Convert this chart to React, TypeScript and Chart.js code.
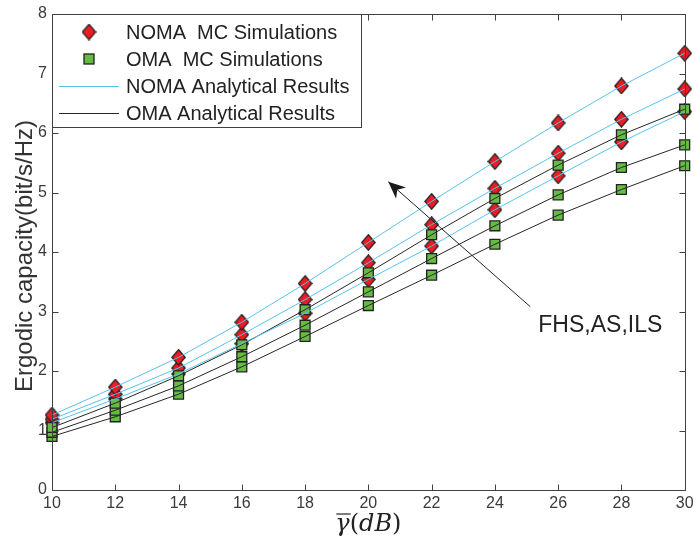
import React, { useEffect, useRef } from "react";
import { Chart, registerables } from "chart.js";
Chart.register(...registerables);

// ---------- data ----------
const snrDb = [10, 12, 14, 16, 18, 20, 22, 24, 26, 28, 30];
const nomaFHS = [1.26, 1.73, 2.23, 2.82, 3.47, 4.16, 4.85, 5.52, 6.17, 6.79, 7.34];
const nomaAS = [1.19, 1.61, 2.05, 2.61, 3.2, 3.82, 4.46, 5.07, 5.66, 6.23, 6.74];
const nomaILS = [1.13, 1.53, 1.95, 2.46, 2.97, 3.54, 4.1, 4.71, 5.28, 5.85, 6.36];
const omaFHS = [1.05, 1.46, 1.92, 2.44, 3.03, 3.65, 4.29, 4.9, 5.46, 5.97, 6.4];
const omaAS = [0.97, 1.34, 1.75, 2.24, 2.77, 3.33, 3.89, 4.44, 4.96, 5.42, 5.8];
const omaILS = [0.9, 1.23, 1.61, 2.07, 2.58, 3.1, 3.61, 4.13, 4.62, 5.05, 5.45];
const xTicks = [10, 12, 14, 16, 18, 20, 22, 24, 26, 28, 30];
const yTicks = [0, 1, 2, 3, 4, 5, 6, 7, 8];
const legendLabels = [
  "NOMA  MC Simulations",
  "OMA  MC Simulations",
  "NOMA Analytical Results",
  "OMA Analytical Results",
];
const yTitle = "Ergodic capacity(bit/s/Hz)";
const annotationText = "FHS,AS,ILS";
// arrow in data coordinates (tail -> head)
const arrowTail = { x: 25.12, y: 3.08 };
const arrowHead = { x: 20.63, y: 5.18 };

// ---------- styles ----------
const RED = "#EC1C24";
const GREEN = "#66BB44";
const EDGE = "#222222";
const CYAN = "#56C3EE";
const BLACK = "#262626";
const AXIS = "#404040";
const SANS = 'Arial, "Liberation Sans", Helvetica, sans-serif';

function makeDiamond(): HTMLCanvasElement {
  const c = document.createElement("canvas");
  c.width = 15;
  c.height = 17;
  const g = c.getContext("2d")!;
  g.beginPath();
  g.moveTo(7.5, 0.8);
  g.lineTo(14.2, 8.5);
  g.lineTo(7.5, 16.2);
  g.lineTo(0.8, 8.5);
  g.closePath();
  g.fillStyle = RED;
  g.fill();
  g.strokeStyle = EDGE;
  g.lineWidth = 1.3;
  g.stroke();
  return c;
}

const pts = (ys: number[]) => snrDb.map((x, i) => ({ x, y: ys[i] }));

export default function App() {
  const ref = useRef<HTMLCanvasElement>(null);
  useEffect(() => {
    const diamond = makeDiamond();
    const lineDs = (ys: number[], color: string) => ({
      type: "line" as const,
      data: pts(ys),
      borderColor: color,
      borderWidth: 1,
      pointRadius: 0,
      showLine: true,
      fill: false,
      order: 0,
      clip: false as any,
    });
    const markDs = (ys: number[], kind: "d" | "s") => ({
      type: "line" as const,
      data: pts(ys),
      showLine: false,
      pointStyle: kind === "d" ? (diamond as any) : "rect",
      pointRadius: kind === "d" ? 8 : 7,
      pointBackgroundColor: GREEN,
      pointBorderColor: EDGE,
      pointBorderWidth: 1.3,
      order: 1,
      clip: false as any,
    });

    const decor = {
      id: "decor",
      afterDraw(chart: any) {
        const ctx = chart.ctx as CanvasRenderingContext2D;
        const { left, right, top, bottom } = chart.chartArea;
        const xs = chart.scales.x;
        const ys = chart.scales.y;
        ctx.save();
        // frame
        ctx.strokeStyle = AXIS;
        ctx.lineWidth = 1;
        const L = Math.round(left) + 0.5,
          R = Math.round(right) + 0.5,
          T = Math.round(top) + 0.5,
          B = Math.round(bottom) + 0.5;
        ctx.strokeRect(L, T, R - L, B - T);
        // inward ticks
        ctx.beginPath();
        const tl = 6;
        xTicks.forEach((v) => {
          const px = Math.round(xs.getPixelForValue(v)) + 0.5;
          ctx.moveTo(px, B);
          ctx.lineTo(px, B - tl);
          ctx.moveTo(px, T);
          ctx.lineTo(px, T + tl);
        });
        yTicks.forEach((v) => {
          const py = Math.round(ys.getPixelForValue(v)) + 0.5;
          ctx.moveTo(L, py);
          ctx.lineTo(L + tl, py);
          ctx.moveTo(R, py);
          ctx.lineTo(R - tl, py);
        });
        ctx.stroke();

        // arrow annotation
        const tx = xs.getPixelForValue(arrowTail.x);
        const ty = ys.getPixelForValue(arrowTail.y);
        const hx = xs.getPixelForValue(arrowHead.x);
        const hy = ys.getPixelForValue(arrowHead.y);
        ctx.strokeStyle = "#222";
        ctx.lineWidth = 1;
        ctx.beginPath();
        ctx.moveTo(tx, ty);
        ctx.lineTo(hx, hy);
        ctx.stroke();
        const ang = Math.atan2(hy - ty, hx - tx);
        const hl = 17,
          hw = 7.5;
        const bx = hx - hl * Math.cos(ang),
          by = hy - hl * Math.sin(ang);
        const nx = hx - hl * 0.7 * Math.cos(ang),
          ny = hy - hl * 0.7 * Math.sin(ang);
        ctx.fillStyle = "#1a1a1a";
        ctx.beginPath();
        ctx.moveTo(hx, hy);
        ctx.lineTo(bx + hw * Math.sin(ang), by - hw * Math.cos(ang));
        ctx.lineTo(nx, ny);
        ctx.lineTo(bx - hw * Math.sin(ang), by + hw * Math.cos(ang));
        ctx.closePath();
        ctx.fill();
        ctx.font = `23px ${SANS}`;
        ctx.fillStyle = "#222";
        ctx.textAlign = "left";
        ctx.textBaseline = "alphabetic";
        ctx.fillText(annotationText, tx + 8, ty + 25);

        // legend
        const lx0 = L,
          ly0 = T,
          lx1 = 361.5,
          ly1 = 127.5;
        ctx.fillStyle = "#fff";
        ctx.fillRect(lx0, ly0, lx1 - lx0, ly1 - ly0);
        ctx.strokeStyle = AXIS;
        ctx.strokeRect(lx0, ly0, lx1 - lx0, ly1 - ly0);
        const rows = [32, 59, 86, 113];
        const mx = 89;
        // diamond
        ctx.drawImage(diamond, mx - 7.5, rows[0] - 8.5);
        // square
        ctx.fillStyle = GREEN;
        ctx.strokeStyle = EDGE;
        ctx.lineWidth = 1.3;
        ctx.fillRect(mx - 5, rows[1] - 5, 10, 10);
        ctx.strokeRect(mx - 5, rows[1] - 5, 10, 10);
        ctx.lineWidth = 1;
        ctx.strokeStyle = CYAN;
        ctx.beginPath();
        ctx.moveTo(59, rows[2] + 0.5);
        ctx.lineTo(119, rows[2] + 0.5);
        ctx.stroke();
        ctx.strokeStyle = BLACK;
        ctx.beginPath();
        ctx.moveTo(59, rows[3] + 0.5);
        ctx.lineTo(119, rows[3] + 0.5);
        ctx.stroke();
        ctx.font = `20px ${SANS}`;
        ctx.fillStyle = "#222";
        ctx.textBaseline = "middle";
        legendLabels.forEach((t, i) => ctx.fillText(t, 126, rows[i] + 1));

        // y title
        ctx.save();
        ctx.translate(32, (top + bottom) / 2 + 4);
        ctx.rotate(-Math.PI / 2);
        ctx.font = `24px ${SANS}`;
        ctx.fillStyle = "#333";
        ctx.textAlign = "center";
        ctx.textBaseline = "alphabetic";
        ctx.fillText(yTitle, 0, 0);
        ctx.restore();

        // x title: overline-gamma (dB)
        const ital = '"DejaVu Serif", "Liberation Serif", serif';
        const parts = [
          { t: "γ", f: `italic 24px ${ital}` },
          { t: "(", f: `24px ${ital}` },
          { t: "dB", f: `italic 24px ${ital}` },
          { t: ")", f: `24px ${ital}` },
        ];
        let total = 0;
        const widths = parts.map((p) => {
          ctx.font = p.f;
          const w = ctx.measureText(p.t).width;
          total += w;
          return w;
        });
        let cx = (left + right) / 2 - total / 2;
        const base = 531;
        ctx.fillStyle = "#222";
        ctx.textAlign = "left";
        ctx.textBaseline = "alphabetic";
        parts.forEach((p, i) => {
          ctx.font = p.f;
          ctx.fillText(p.t, cx, base);
          if (i === 0) {
            ctx.strokeStyle = "#222";
            ctx.lineWidth = 1.2;
            ctx.beginPath();
            ctx.moveTo(cx + 1, base - 17);
            ctx.lineTo(cx + widths[0] + 1, base - 17);
            ctx.stroke();
          }
          cx += widths[i];
        });
        ctx.restore();
      },
    };

    const chart = new Chart(ref.current!, {
      type: "line",
      data: {
        datasets: [
          lineDs(nomaFHS, CYAN),
          lineDs(nomaAS, CYAN),
          lineDs(nomaILS, CYAN),
          lineDs(omaFHS, BLACK),
          lineDs(omaAS, BLACK),
          lineDs(omaILS, BLACK),
          markDs(omaFHS, "s"),
          markDs(omaAS, "s"),
          markDs(omaILS, "s"),
          markDs(nomaFHS, "d"),
          markDs(nomaAS, "d"),
          markDs(nomaILS, "d"),
        ] as any,
      },
      options: {
        animation: false,
        responsive: false,
        events: [],
        layout: { padding: { top: 14, right: 9, left: 0, bottom: 0 } },
        plugins: { legend: { display: false }, tooltip: { enabled: false } },
        scales: {
          x: {
            type: "linear",
            min: 10,
            max: 30,
            afterBuildTicks: (s: any) => {
              s.ticks = xTicks.map((v) => ({ value: v }));
            },
            afterFit: (s: any) => {
              s.height = 50;
              s.paddingLeft = 0;
              s.paddingRight = 0;
            },
            ticks: {
              font: { size: 16, family: SANS },
              color: "#3a3a3a",
              padding: 4,
              maxRotation: 0,
              autoSkip: false,
            },
            grid: { display: false, drawTicks: false },
            border: { display: false },
          },
          y: {
            type: "linear",
            min: 0,
            max: 8,
            afterBuildTicks: (s: any) => {
              s.ticks = yTicks.map((v) => ({ value: v }));
            },
            afterFit: (s: any) => {
              s.width = 52;
              s.paddingTop = 0;
              s.paddingBottom = 0;
            },
            ticks: {
              font: { size: 16, family: SANS },
              color: "#3a3a3a",
              padding: 5,
              autoSkip: false,
            },
            grid: { display: false, drawTicks: false },
            border: { display: false },
          },
        },
      },
      plugins: [decor],
    });
    return () => chart.destroy();
  }, []);

  return (
    <div style={{ position: "absolute", left: 0, top: 0, width: 694, height: 540, background: "#fff" }}>
      <canvas ref={ref} width={694} height={540} style={{ display: "block" }} />
    </div>
  );
}
